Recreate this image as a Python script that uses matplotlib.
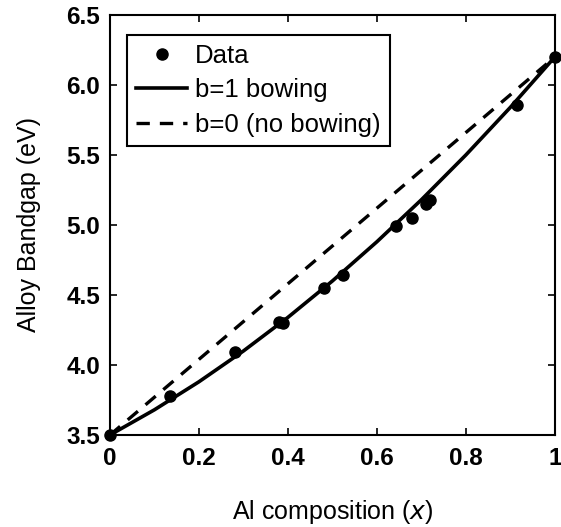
import numpy as np
import matplotlib
matplotlib.use("Agg")
import matplotlib.pyplot as plt

# measured points (Al composition, bandgap in eV)
data_x = [0.0, 0.135, 0.281, 0.38, 0.39, 0.481, 0.524, 0.642, 0.679, 0.71, 0.72, 0.916, 1.0]
data_y = [3.50, 3.78, 4.09, 4.31, 4.30, 4.55, 4.64, 4.99, 5.05, 5.15, 5.18, 5.86, 6.20]

# model curves
curve_x = [0.0, 0.1, 0.2, 0.3, 0.4, 0.5, 0.6, 0.7, 0.8, 0.9, 1.0]
bow1_y = [3.50, 3.68, 3.88, 4.10, 4.34, 4.60, 4.88, 5.18, 5.50, 5.84, 6.20]
bow0_x = [0.0, 1.0]
bow0_y = [3.50, 6.20]

x_ticks = [0, 0.2, 0.4, 0.6, 0.8, 1]
x_tick_labels = ["0", "0.2", "0.4", "0.6", "0.8", "1"]
y_ticks = [3.5, 4.0, 4.5, 5.0, 5.5, 6.0, 6.5]

plt.rcParams["font.family"] = ["Liberation Sans", "DejaVu Sans"]

fig = plt.figure(figsize=(5.61, 5.27), dpi=100)
ax = fig.add_axes([0.196, 0.1746, 0.793, 0.797])

ax.plot(data_x, data_y, "o", color="black", markersize=8, label="Data",
        zorder=3, clip_on=False)
ax.plot(curve_x, bow1_y, "-", color="black", lw=2.6, label="b=1 bowing")
ax.plot(bow0_x, bow0_y, "--", color="black", lw=2.4, dashes=(4, 3), label="b=0 (no bowing)")

ax.set_xlim(0, 1)
ax.set_ylim(3.5, 6.5)
ax.set_xticks(x_ticks)
ax.set_xticklabels(x_tick_labels)
ax.set_yticks(y_ticks)
ax.set_yticklabels([f"{v:.1f}" for v in y_ticks])
ax.tick_params(direction="in", top=True, right=True, length=5, width=1.2,
               labelsize=17.5)
ax.tick_params(axis="x", pad=9)
ax.tick_params(axis="y", pad=7)
for lab in ax.get_xticklabels() + ax.get_yticklabels():
    lab.set_fontweight("bold")
for sp in ax.spines.values():
    sp.set_linewidth(1.5)

ax.set_xlabel("Al composition ($x$)", fontsize=18, labelpad=20)
ax.set_ylabel("Alloy Bandgap (eV)", fontsize=18, labelpad=18)

leg = ax.legend(loc="upper left", bbox_to_anchor=(0.038, 0.952), fontsize=18.5,
                frameon=True, fancybox=False, edgecolor="black", framealpha=1,
                handlelength=2.0, handletextpad=0.3, borderpad=0.35,
                labelspacing=0.4, borderaxespad=0)
leg.get_frame().set_linewidth(1.5)

fig.savefig("out.png", dpi=100)
